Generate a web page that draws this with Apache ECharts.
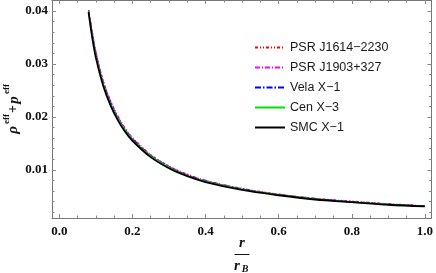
<!DOCTYPE html>
<html>
<head>
<meta charset="utf-8">
<script src="https://cdn.jsdelivr.net/npm/echarts@6/dist/echarts.min.js"></script>
<style>html,body{margin:0;padding:0;background:#fff}#c{width:436px;height:273px}</style>
</head>
<body>
<div id="c"></div>
<script>
var xVals = [0.08, 0.09, 0.10, 0.12, 0.14, 0.16, 0.18, 0.20, 0.25, 0.30, 0.35, 0.40, 0.50, 0.60, 0.70, 0.80, 0.90, 1.00];
var smcX1 = [0.0398, 0.0350, 0.0312, 0.0259, 0.0222, 0.0194, 0.0172, 0.0155, 0.0124, 0.0103, 0.0088, 0.0077, 0.0062, 0.0052, 0.0044, 0.0039, 0.0034, 0.0031];
var cenX3 = [0.0400, 0.0355, 0.0317, 0.0263, 0.0225, 0.0197, 0.0175, 0.0157, 0.0126, 0.0105, 0.0089, 0.0078, 0.0063, 0.0053, 0.0045, 0.0039, 0.0035, 0.0031];
var velaX1 = [0.0401, 0.0358, 0.0320, 0.0265, 0.0228, 0.0199, 0.0176, 0.0159, 0.0127, 0.0106, 0.0090, 0.0079, 0.0064, 0.0053, 0.0045, 0.0040, 0.0035, 0.0032];
var psrJ1903 = [0.0402, 0.0361, 0.0323, 0.0268, 0.0230, 0.0201, 0.0178, 0.0160, 0.0128, 0.0107, 0.0091, 0.0080, 0.0064, 0.0054, 0.0046, 0.0040, 0.0035, 0.0032];
var psrJ1614 = [0.0402, 0.0362, 0.0324, 0.0269, 0.0231, 0.0202, 0.0179, 0.0161, 0.0129, 0.0107, 0.0092, 0.0080, 0.0065, 0.0054, 0.0046, 0.0041, 0.0036, 0.0032];
var seriesNames = ['PSR J1614\u22122230', 'PSR J1903+327', 'Vela X\u22121', 'Cen X\u22123', 'SMC X\u22121'];
var xMajor = [0.0, 0.2, 0.4, 0.6, 0.8, 1.0];
var xMajorLabels = ['0.0', '0.2', '0.4', '0.6', '0.8', '1.0'];
var xMinor = [0.05, 0.1, 0.15, 0.25, 0.3, 0.35, 0.45, 0.5, 0.55, 0.65, 0.7, 0.75, 0.85, 0.9, 0.95];
var yMajor = [0.01, 0.02, 0.03, 0.04];
var yMajorLabels = ['0.01', '0.02', '0.03', '0.04'];
var yMinor = [0.002, 0.004, 0.006, 0.008, 0.012, 0.014, 0.016, 0.018, 0.022, 0.024, 0.026, 0.028, 0.032, 0.034, 0.036, 0.038];

var XMIN = -0.02, XMAX = 1.018, YMIN = 0.0009, YMAX = 0.0421;
var frameColor = '#777';
var tickColor = '#888';
var labelFont = {fontFamily: 'Liberation Serif', fontWeight: 'bold', fontSize: 13, color: '#111'};

function pairs(ys) { return xVals.map(function (x, i) { return [x, ys[i]]; }); }
function xAxis(pos, ticks, len, labels, showLine) {
  return {
    type: 'value', position: pos, min: XMIN, max: XMAX,
    axisLine: {show: showLine, onZero: false, lineStyle: {color: frameColor, width: 1}},
    axisTick: {show: true, inside: true, length: len, customValues: ticks, lineStyle: {color: tickColor, width: 1}},
    axisLabel: labels ? Object.assign({show: true, customValues: ticks, margin: 7, formatter: function (v) { return xMajorLabels[xMajor.indexOf(Math.round(v * 100) / 100)] || ''; }}, labelFont) : {show: false},
    splitLine: {show: false}
  };
}
function yAxis(pos, ticks, len, labels, showLine) {
  return {
    type: 'value', position: pos, min: YMIN, max: YMAX,
    axisLine: {show: showLine, onZero: false, lineStyle: {color: frameColor, width: 1}},
    axisTick: {show: true, inside: true, length: len, customValues: ticks, lineStyle: {color: tickColor, width: 1}},
    axisLabel: labels ? Object.assign({show: true, customValues: ticks, margin: 4, formatter: function (v) { return yMajorLabels[yMajor.indexOf(Math.round(v * 1000) / 1000)] || ''; }}, labelFont) : {show: false},
    splitLine: {show: false}
  };
}

var styles = [
  {color: '#ff0000', type: [3, 2, 1, 2, 1, 2], width: 1.2},
  {color: '#ff00ff', type: [5, 2, 1, 2], width: 1.2},
  {color: '#0000ff', type: [6, 2, 1.5, 2], width: 1.2},
  {color: '#00e000', type: 'solid', width: 1.3},
  {color: '#000000', type: 'solid', width: 1.8}
];
var dataSets = [psrJ1614, psrJ1903, velaX1, cenX3, smcX1];
var order = [4, 3, 2, 1, 0];
var series = order.map(function (i) {
  return {
    name: seriesNames[i], type: 'line', data: pairs(dataSets[i]), smooth: 0.35,
    showSymbol: false, symbol: 'none', lineStyle: styles[i], itemStyle: {color: styles[i].color},
    xAxisIndex: 0, yAxisIndex: 0, z: 2 + i, silent: true
  };
});

var chart = echarts.init(document.getElementById('c'), null, {renderer: 'canvas'});
chart.setOption({
  animation: false,
  backgroundColor: '#fff',
  grid: {left: 52, right: 3, top: 0, bottom: 55, containLabel: false},
  xAxis: [
    xAxis('bottom', xMajor, 4, true, true),
    xAxis('bottom', xMinor, 2.5, false, false),
    xAxis('top', xMajor, 4, false, true),
    xAxis('top', xMinor, 2.5, false, false)
  ],
  yAxis: [
    yAxis('left', yMajor, 4, true, true),
    yAxis('left', yMinor, 2.5, false, false),
    yAxis('right', yMajor, 4, false, true),
    yAxis('right', yMinor, 2.5, false, false)
  ],
  legend: {
    data: seriesNames, orient: 'vertical', left: 249, top: 36,
    itemWidth: 30, itemHeight: 14, itemGap: 7,
    itemStyle: {opacity: 0, borderWidth: 0},
    textStyle: {fontFamily: 'Liberation Sans', fontSize: 12.5, color: '#1a1a1a'}
  },
  series: series,
  graphic: [
    {
      type: 'group', x: 13, y: 108, rotation: Math.PI / 2,
      children: [
        {type: 'text', x: -22, y: 0, style: {text: '\u03c1', font: 'italic bold 15px "Liberation Serif"', fill: '#111', verticalAlign: 'middle', align: 'center'}},
        {type: 'text', x: -11, y: -6, style: {text: 'eff', font: 'bold 9px "Liberation Serif"', fill: '#111', verticalAlign: 'middle', align: 'center'}},
        {type: 'text', x: -1, y: 0, style: {text: '+', font: 'bold 14px "Liberation Serif"', fill: '#111', verticalAlign: 'middle', align: 'center'}},
        {type: 'text', x: 8, y: 1, style: {text: 'p', font: 'italic bold 15px "Liberation Serif"', fill: '#111', verticalAlign: 'middle', align: 'center'}},
        {type: 'text', x: 19, y: -6, style: {text: 'eff', font: 'bold 9px "Liberation Serif"', fill: '#111', verticalAlign: 'middle', align: 'center'}}
      ]
    },
    {type: 'text', x: 242, y: 243, style: {text: 'r', font: 'italic bold 15px "Liberation Serif"', fill: '#111', align: 'center', verticalAlign: 'middle'}},
    {type: 'line', shape: {x1: 234.5, y1: 254.5, x2: 249.5, y2: 254.5}, style: {stroke: '#111', lineWidth: 1}},
    {type: 'text', x: 237, y: 266, style: {text: 'r', font: 'italic bold 15px "Liberation Serif"', fill: '#111', align: 'center', verticalAlign: 'middle'}},
    {type: 'text', x: 245, y: 269, style: {text: 'B', font: 'italic bold 10px "Liberation Serif"', fill: '#111', align: 'center', verticalAlign: 'middle'}}
  ]
});
</script>
</body>
</html>
